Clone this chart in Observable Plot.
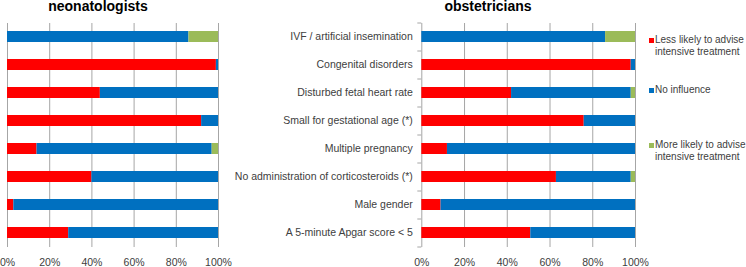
<!DOCTYPE html>
<html><head><meta charset="utf-8">
<script src="https://cdn.jsdelivr.net/npm/d3@7"></script>
<script src="https://cdn.jsdelivr.net/npm/@observablehq/plot@0.6"></script>
<style>
body{margin:0;background:#fff;font-family:"Liberation Sans",Arial,sans-serif;}
#wrap{position:relative;width:746px;height:267px;overflow:hidden;}
#wrap svg{position:absolute;top:0;overflow:visible;}
.title{position:absolute;top:-1px;font-weight:bold;font-size:14px;line-height:14px;color:#000;transform:translateX(-50%);white-space:nowrap;}
.leg{position:absolute;font-size:10px;line-height:11.5px;color:#404040;white-space:nowrap;}
.sw{position:absolute;width:5px;height:5px;}
</style></head>
<body><div id="wrap"></div>
<script>
const categories = [
  "IVF / artificial insemination",
  "Congenital disorders",
  "Disturbed fetal heart rate",
  "Small for gestational age (*)",
  "Multiple pregnancy",
  "No administration of corticosteroids (*)",
  "Male gender",
  "A 5-minute Apgar score < 5"
];
const responses = [
  "Less likely to advise intensive treatment",
  "No influence",
  "More likely to advise intensive treatment"
];
const legendLines = [
  ["Less likely to advise", "intensive treatment"],
  ["No influence"],
  ["More likely to advise", "intensive treatment"]
];
const colors = ["#FF0000", "#0070C0", "#9BBB59"];

const neoLess = [0, 99, 44, 92, 14, 40, 3, 29];
const neoNone = [86, 1, 56, 8, 83, 60, 97, 71];
const neoMore = [14, 0, 0, 0, 3, 0, 0, 0];

const obsLess = [0, 98, 42, 76, 12, 63, 9, 51];
const obsNone = [86, 2, 56, 24, 88, 35, 91, 49];
const obsMore = [14, 0, 2, 0, 0, 2, 0, 0];

const xTicks = [0, 20, 40, 60, 80, 100];
const panelTitles = ["neonatologists", "obstetricians"];

function table(less, none, more) {
  const rows = [];
  categories.forEach((c, i) => {
    [less, none, more].forEach((arr, j) => {
      rows.push({category: c, response: responses[j], value: arr[i]});
    });
  });
  return rows;
}

const gridColor = "#a6a6a6";
const textColor = "#404040";

function panel(data, opts) {
  const marks = [
    Plot.gridX(xTicks, {stroke: gridColor, strokeOpacity: 1}),
    Plot.barX(data, {x: "value", y: "category", fill: "response"}),
    Plot.axisX(xTicks, {tickSize: 0, tickPadding: 11, tickFormat: d => d + "%", fontSize: 10.5, fill: textColor, label: null})
  ];
  if (opts.labels) {
    marks.push(
      Plot.axisY({tickSize: 4, tickFormat: () => "", dy: -14, stroke: gridColor, label: null}),
      Plot.axisY([categories[categories.length - 1]], {tickSize: 4, tickFormat: () => "", dy: 14, stroke: gridColor, label: null}),
      Plot.axisY({tickSize: 0, tickPadding: 9, fontSize: 10.5, fill: textColor, label: null})
    );
  }
  return Plot.plot({
    width: opts.width,
    height: 267,
    marginLeft: opts.marginLeft,
    marginRight: opts.marginRight,
    marginTop: 23,
    marginBottom: 20,
    style: {fontFamily: '"Liberation Sans", Arial, sans-serif', background: "transparent"},
    x: {domain: [0, 100], axis: null, label: null},
    y: {domain: categories, paddingInner: 0.6, paddingOuter: 0.3, axis: null, label: null},
    color: {domain: responses, range: colors},
    marks
  });
}

const wrap = document.getElementById("wrap");

const left = panel(table(neoLess, neoNone, neoMore), {width: 240, marginLeft: 7, marginRight: 22, labels: false});
left.style.left = "0px";
wrap.appendChild(left);

const right = panel(table(obsLess, obsNone, obsMore), {width: 400, marginLeft: 171.3, marginRight: 15, labels: true});
right.style.left = "250px";
wrap.appendChild(right);

[[98, panelTitles[0]], [488, panelTitles[1]]].forEach(([x, t]) => {
  const d = document.createElement("div");
  d.className = "title";
  d.style.left = x + "px";
  d.textContent = t;
  wrap.appendChild(d);
});

const legTops = [34, 84, 139];
legendLines.forEach((lines, i) => {
  const sw = document.createElement("div");
  sw.className = "sw";
  sw.style.left = "649px";
  sw.style.top = (legTops[i] + 3.5) + "px";
  sw.style.background = colors[i];
  wrap.appendChild(sw);
  const t = document.createElement("div");
  t.className = "leg";
  t.style.left = "655px";
  t.style.top = legTops[i] + "px";
  t.innerHTML = lines.map(s => s.replace(/&/g, "&amp;").replace(/</g, "&lt;")).join("<br>");
  wrap.appendChild(t);
});
</script>
</body></html>
